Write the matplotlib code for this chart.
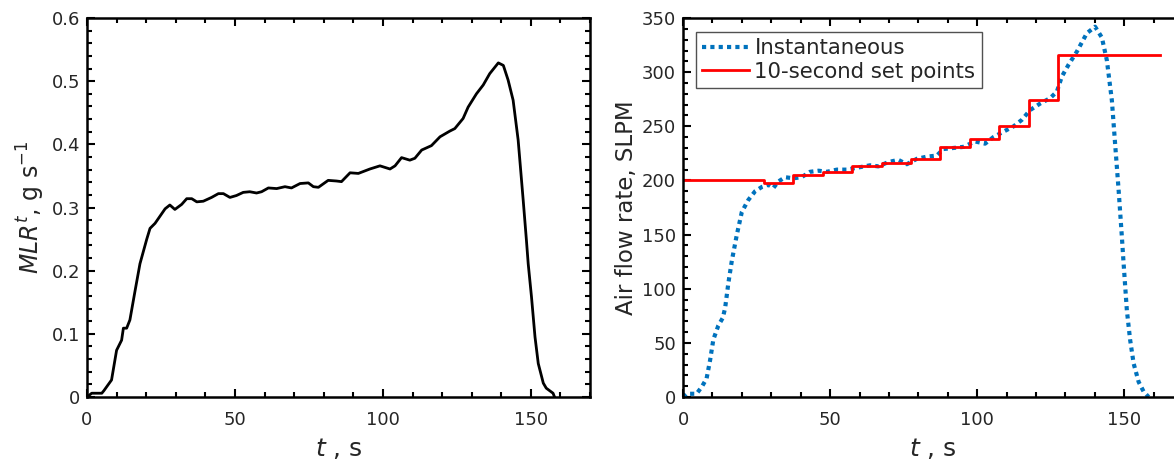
import matplotlib
matplotlib.use("Agg")
import matplotlib.pyplot as plt
from matplotlib.ticker import MultipleLocator

# Mass loss rate (left panel)
t_mlr = [0, 1.6, 5.0, 5.7, 8.3, 10.0, 11.7, 12.3, 13.4, 14.5, 16.2, 17.9, 20.2, 21.3,
         23.0, 26.4, 28.0, 29.7, 32.0, 33.7, 35.4, 37.1, 39.3, 42.1, 44.4, 46.1, 48.3,
         50.5, 52.8, 55.0, 57.3, 59.0, 61.3, 64.1, 66.9, 69.1, 72.0, 74.8, 76.5, 78.2,
         81.5, 84.3, 86.0, 88.9, 91.7, 95.6, 99.0, 102.4, 104.1, 106.3, 109.1, 110.8,
         113.1, 116.4, 119.3, 122.6, 124.3, 127.1, 128.8, 131.6, 133.9, 136.1, 139.0,
         140.7, 142.3, 144.0, 145.7, 147.4, 148.5, 149.1, 150.2, 151.4, 152.5, 154.2,
         155.2, 157.5, 158.0]
mlr = [0, 0.006, 0.006, 0.010, 0.027, 0.074, 0.090, 0.109, 0.109, 0.122, 0.167, 0.211,
       0.250, 0.267, 0.275, 0.298, 0.304, 0.297, 0.305, 0.314, 0.314, 0.309, 0.310,
       0.316, 0.322, 0.322, 0.316, 0.319, 0.324, 0.325, 0.323, 0.325, 0.331, 0.330,
       0.333, 0.331, 0.338, 0.339, 0.333, 0.332, 0.343, 0.342, 0.341, 0.355, 0.354,
       0.361, 0.366, 0.361, 0.366, 0.379, 0.375, 0.378, 0.391, 0.398, 0.412, 0.421,
       0.425, 0.441, 0.459, 0.480, 0.494, 0.512, 0.529, 0.525, 0.502, 0.470, 0.407,
       0.312, 0.248, 0.211, 0.159, 0.095, 0.053, 0.022, 0.014, 0.006, 0.0]

# Instantaneous air flow (right panel)
t_air = [0, 1.2, 4.6, 6.4, 8.0, 9.2, 10.3, 12.0, 13.5, 14.3, 15.4, 16.6, 18.3, 20.0,
         22.2, 24.5, 26.8, 29.0, 30.7, 32.4, 34.7, 37.5, 40.3, 43.2, 46.1, 48.9, 52.3,
         55.7, 59.6, 63.6, 66.4, 69.8, 73.2, 76.1, 79.5, 82.9, 86.3, 88.5, 91.9, 95.3,
         99.3, 102.7, 105.5, 108.9, 112.4, 115.2, 118.0, 121.4, 124.8, 127.1, 128.8,
         131.1, 133.9, 137.3, 140.1, 142.4, 144.1, 145.8, 146.9, 148.1, 149.2, 149.8,
         150.9, 152.0, 153.2, 154.9, 156.6, 158.3]
air = [0, 3, 3, 9.5, 17, 34, 53, 66, 73, 82, 105, 126, 150, 171, 182, 190, 194, 196,
       193, 199, 203, 202, 203, 208, 209, 208, 210, 210, 212, 214, 213, 217, 219, 215,
       220, 222, 223, 229, 230, 231, 236, 234, 240, 245, 250, 256, 265, 271, 276, 282,
       296, 307, 319, 336, 342, 332, 311, 274, 234, 191, 148, 123, 80, 53, 31, 14, 5, 0]

# 10-second set points
t_set = [0, 27.5, 37.5, 47.5, 57.5, 67.5, 77.5, 87.5, 97.5, 107.5, 117.5, 127.5, 162]
setpt = [200, 198, 205, 208, 213, 216, 220, 231, 238, 250, 274, 316, 316]

plt.rcParams["font.family"] = ["DejaVu Sans"]
plt.rcParams["mathtext.fontset"] = "dejavusans"

text_col = "#262626"

fig = plt.figure(figsize=(11.74, 4.65), dpi=100)
ax1 = fig.add_axes([0.0741, 0.1462, 0.4285, 0.815])
ax2 = fig.add_axes([0.5818, 0.1462, 0.4259, 0.815])


def style_axes(ax):
    ax.tick_params(which="both", direction="in", top=True, right=True,
                   labelsize=13, colors="black", labelcolor=text_col, width=1.5)
    ax.tick_params(which="major", length=6)
    ax.tick_params(which="minor", length=3.5)
    ax.tick_params(axis="x", which="major", pad=10)
    ax.tick_params(axis="y", which="major", pad=5)
    for s in ax.spines.values():
        s.set_linewidth(1.8)
        s.set_color("black")
    ax.xaxis.set_major_locator(MultipleLocator(50))
    ax.xaxis.set_minor_locator(MultipleLocator(10))


ax1.plot(t_mlr, mlr, color="black", lw=2.0)
ax1.set_xlim(0, 170)
ax1.set_ylim(0, 0.6)
style_axes(ax1)
ax1.yaxis.set_major_locator(MultipleLocator(0.1))
ax1.yaxis.set_minor_locator(MultipleLocator(0.02))
ax1.set_yticks([0, 0.1, 0.2, 0.3, 0.4, 0.5, 0.6])
ax1.set_yticklabels(["0", "0.1", "0.2", "0.3", "0.4", "0.5", "0.6"])
ax1.set_xlabel(r"$\mathit{t}$ , s", fontsize=18, color=text_col, labelpad=5)
ax1.set_ylabel(r"$\mathit{MLR}^{\mathit{t}}$, g s$^{-1}$", fontsize=17, color=text_col, labelpad=3)

ax2.plot(t_air, air, color="#0072BD", lw=3.0, linestyle=(0, (1, 1)), label="Instantaneous")
ax2.plot(t_set, setpt, color="#FF0000", lw=2.0, drawstyle="steps-post", label="10-second set points")
ax2.set_xlim(0, 170)
ax2.set_ylim(0, 350)
style_axes(ax2)
ax2.yaxis.set_major_locator(MultipleLocator(50))
ax2.yaxis.set_minor_locator(MultipleLocator(10))
ax2.set_xlabel(r"$\mathit{t}$ , s", fontsize=18, color=text_col, labelpad=5)
ax2.set_ylabel("Air flow rate, SLPM", fontsize=16.5, color=text_col, labelpad=3)

leg = ax2.legend(loc="upper left", fontsize=15.3, frameon=True, fancybox=False,
                 edgecolor="#262626", handlelength=2.2, handletextpad=0.25,
                 borderpad=0.3, labelspacing=0.15, borderaxespad=0,
                 bbox_to_anchor=(0.026, 0.963))
leg.get_frame().set_linewidth(1.0)
for txt in leg.get_texts():
    txt.set_color(text_col)

fig.savefig("out.png", dpi=100)
